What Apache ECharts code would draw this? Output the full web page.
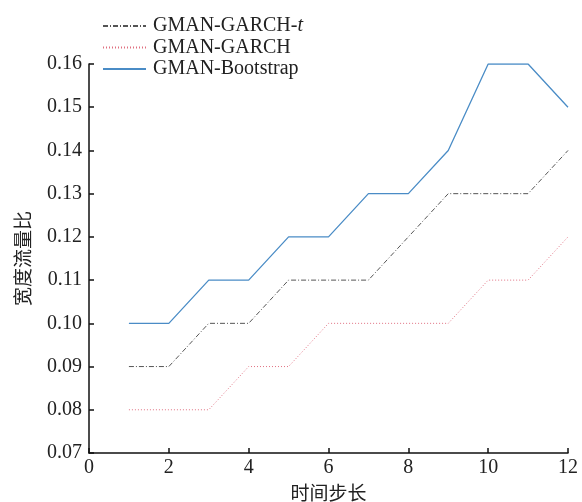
<!DOCTYPE html>
<html><head><meta charset="utf-8">
<script src="https://cdn.jsdelivr.net/npm/echarts@6/dist/echarts.min.js"></script>
<style>html,body{margin:0;padding:0;background:#fff}#c{width:582px;height:502px}</style>
</head><body><div id="c"></div>
<script>
const steps = [1,2,3,4,5,6,7,8,9,10,11,12];
const garchT = [0.09,0.09,0.10,0.10,0.11,0.11,0.11,0.12,0.13,0.13,0.13,0.14];
const garch = [0.08,0.08,0.08,0.09,0.09,0.10,0.10,0.10,0.10,0.11,0.11,0.12];
const bootstrap = [0.10,0.10,0.11,0.11,0.12,0.12,0.13,0.13,0.14,0.16,0.16,0.15];
const seriesNames = ['GMAN-GARCH-t','GMAN-GARCH','GMAN-Bootstrap'];
const xTitle = '时间步长';
const yTitle = '宽度流量比';

const font = '"Liberation Serif","DejaVu Serif",serif';
const cjk = '"Noto Sans CJK SC",sans-serif';
const pair = arr => steps.map((s,i)=>[s,arr[i]]);
const chart = echarts.init(document.getElementById('c'));
chart.setOption({
  animation:false,
  grid:{left:89,right:14,top:64,bottom:49,outerBoundsMode:'none',containLabel:false},
  legend:{
    orient:'vertical', left:97, top:11, itemWidth:43, itemHeight:10, itemGap:1.5,
    itemStyle:{opacity:0},
    textStyle:{fontFamily:font,fontSize:20,color:'#222',lineHeight:20,padding:[0,0,0,2],
      rich:{i:{fontFamily:font,fontStyle:'italic',fontSize:20,color:'#222'}}},
    formatter:n=> n==='GMAN-GARCH-t' ? 'GMAN-GARCH-{i|t}' : n,
    data:seriesNames
  },
  xAxis:{
    type:'value',min:0,max:12,interval:2,
    name:xTitle,nameLocation:'middle',nameGap:30,
    nameTextStyle:{fontFamily:cjk,fontSize:19,color:'#222'},
    axisLine:{lineStyle:{color:'#111',width:1.5}},
    axisTick:{inside:true,length:5,lineStyle:{color:'#111',width:1.5}},
    axisLabel:{fontFamily:font,fontSize:20,color:'#222',margin:5},
    splitLine:{show:false}
  },
  yAxis:{
    type:'value',min:0.07,max:0.16,interval:0.01,
    name:yTitle,nameLocation:'middle',nameGap:57,
    nameTextStyle:{fontFamily:cjk,fontSize:19,color:'#222'},
    axisLine:{show:true,lineStyle:{color:'#111',width:1.5}},
    axisTick:{show:true,inside:true,length:5,lineStyle:{color:'#111',width:1.5}},
    axisLabel:{fontFamily:font,fontSize:20,color:'#222',margin:7,formatter:v=>v.toFixed(2)},
    splitLine:{show:false}
  },
  series:[
    {name:seriesNames[0],type:'line',symbol:'none',data:pair(garchT),
     lineStyle:{color:'#555',width:1,type:[5,2,1,2]},itemStyle:{color:'#555'}},
    {name:seriesNames[1],type:'line',symbol:'none',data:pair(garch),
     lineStyle:{color:'#e07080',width:1,type:[1,2]},itemStyle:{color:'#e07080'}},
    {name:seriesNames[2],type:'line',symbol:'none',data:pair(bootstrap),
     lineStyle:{color:'#4a8cc6',width:1.3},itemStyle:{color:'#4a8cc6'}}
  ]
});
</script></body></html>
